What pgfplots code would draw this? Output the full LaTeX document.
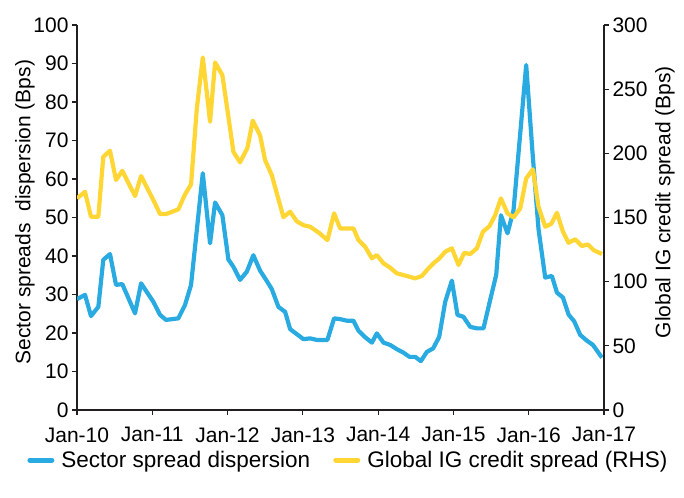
\documentclass[border=0pt]{standalone}
\usepackage{pgfplots}
\pgfplotsset{compat=1.18}
\usepackage{fontspec}
\setmainfont{Liberation Sans}
\definecolor{cblue}{RGB}{41,171,226}
\definecolor{cyellow}{RGB}{255,214,51}
\definecolor{axgray}{RGB}{35,31,32}

\pgfplotstableread{
m v
0 28.8
1.28 29.9
2.23 24.4
3.4 26.8
4.19 39
5.26 40.5
6.22 32.5
7.22 32.7
9.25 25.1
10.21 32.9
12.17 28.1
13.24 24.7
14.19 23.4
16.15 23.8
17.22 27.3
18.18 32.5
20.05 61.5
21.21 43.3
22.01 53.9
23.17 50.6
24.13 39.1
24.93 37.2
25.99 33.8
27.06 35.9
28.11 40.2
29.18 36.2
30.14 33.8
31.05 31.4
32.1 26.8
33.17 25.5
33.97 21
35.04 19.7
36.09 18.4
37.16 18.6
38.22 18.2
39.92 18.2
40.98 23.8
41.94 23.6
43.01 23.2
44.06 23.2
44.86 20.6
45.93 18.9
47.0 17.5
47.79 19.9
48.85 17.5
49.91 16.9
50.98 15.8
52.03 14.9
52.99 13.8
53.9 13.8
54.81 12.7
55.77 15.1
56.77 16
57.73 19
58.69 28.1
59.75 33.6
60.65 24.7
61.6 24.2
62.67 21.6
63.74 21.2
64.79 21.2
65.86 28.6
66.82 35.1
67.57 50.6
68.62 45.9
69.58 51.9
71.6 89.6
72.6 67
73.56 47
74.63 34.4
75.7 34.8
76.5 30.5
77.46 29.2
78.35 24.8
79.26 23
80.21 19.5
81.28 18
82.24 16.9
83.67 13.6
}\blue

\pgfplotstableread{
m v
0 164.9
1.28 170
2.23 150.6
3.4 150.6
4.19 197.3
5.26 202
6.22 179.2
7.22 186.4
9.25 166.7
10.21 182.3
12.17 163.6
13.24 152.7
14.19 152.7
16.15 156.3
17.22 168
18.18 175.8
19.09 234.5
20.05 274.7
21.21 224.6
22.01 270.8
23.17 261
24.13 228.5
24.93 201.2
25.99 193
27.15 204
28.02 225.5
29.18 214
29.98 194.7
31.05 183
31.85 168.8
32.9 150.3
33.97 154.5
35.04 147
36.09 144
37.16 142.8
38.6 138
39.92 132.4
40.98 153.2
41.94 141.5
44.06 141.5
44.86 132.4
45.93 127.2
47.0 118.2
47.79 120.7
48.85 114.3
49.91 110.9
50.98 106.5
52.58 104.4
53.9 102.6
54.97 104.4
55.77 109
56.82 114.3
57.78 118.2
58.69 123.3
59.75 126
60.81 113
61.72 122.5
62.67 121.5
63.74 126
64.7 138.9
65.75 143.3
66.66 151.9
67.57 164.9
68.62 153.2
69.58 150.1
70.65 157.1
71.6 180.5
72.67 187.5
73.56 158.4
74.63 142.8
75.59 145
76.5 153.7
77.46 138.9
78.35 130.3
79.41 133
80.48 127.8
81.44 129
82.34 124.6
83.67 121.5
}\yellow

\begin{document}
\begin{tikzpicture}
\useasboundingbox (0,0) rectangle (684bp,498bp);
\pgfplotsset{
  chartbase/.style={
    at={(77bp,88bp)}, anchor=south west,
    scale only axis, width=527bp, height=385bp,
    xmin=0, xmax=84,
    tick align=outside, major tick length=5bp,
    axis line style={axgray, line width=1.4bp, -},
    every tick/.style={axgray, line width=1.2bp},
    /pgf/number format/assume math mode=true,
    tick label style={font=\fontsize{21bp}{25bp}\selectfont, text=black},
    label style={font=\fontsize{21bp}{25bp}\selectfont, text=black},
    every axis plot/.append style={line width=4.2bp, line join=round},
  }
}
\begin{axis}[chartbase,
  ymin=0, ymax=100,
  axis x line*=bottom, axis y line*=left,
  xtick={0,12,...,84},
  xticklabels={Jan-10,Jan-11,Jan-12,Jan-13,Jan-14,Jan-15,Jan-16,Jan-17},
  xticklabel style={yshift=-9bp},
  ytick={0,10,...,100},
  ylabel={Sector spreads\ \ dispersion (Bps)},
  ylabel style={at={(axis description cs:-0.0987,0.514)}, anchor=center},
]
\addplot[cblue] table[x=m,y=v]{\blue};
\end{axis}
\begin{axis}[chartbase,
  ymin=0, ymax=300,
  axis x line=none, axis y line*=right,
  ytick={0,50,...,300},
  ylabel={Global IG credit spread (Bps)},
  ylabel style={at={(axis description cs:1.1157,0.540)}, anchor=center},
  legend style={at={(axis description cs:0.514,-0.13)}, anchor=center,
    draw=none, fill=none, font=\fontsize{22.5bp}{26bp}\selectfont,
    legend columns=2, inner sep=0pt,
    nodes={inner xsep=1bp},
    /tikz/every odd column/.append style={column sep=6bp},
    /tikz/every even column/.append style={column sep=22bp}},
  legend image code/.code={\draw[#1, line width=5bp, line cap=round] (0bp,0bp) -- (22bp,0bp);},
]
\addlegendimage{cblue}
\addlegendentry{Sector spread dispersion}
\addplot[cyellow] table[x=m,y=v]{\yellow};
\addlegendentry{Global IG credit spread (RHS)}
\end{axis}
\end{tikzpicture}
\end{document}
